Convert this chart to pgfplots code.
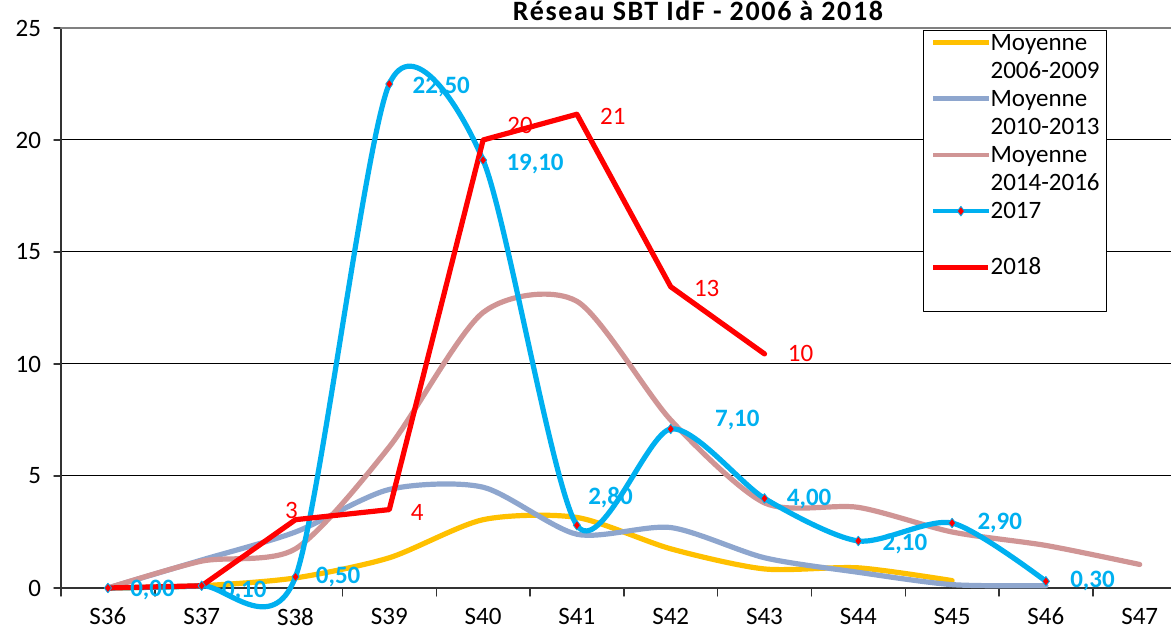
\documentclass[border=0pt]{standalone}
\usepackage{pgfplots}
\pgfplotsset{compat=1.18}
\usepackage{pgfplotstable}
\usepackage{fontspec}
\setmainfont{Carlito}
\definecolor{cyanS}{HTML}{00B0F0}
\definecolor{jaune}{HTML}{FFC000}
\definecolor{bleug}{HTML}{8EA6CE}
\definecolor{rose}{HTML}{D09595}
\definecolor{rouge}{HTML}{FF0000}
\newcommand\fs{\fontsize{12.5bp}{15bp}\selectfont}

\pgfplotstableread{
x y
0 0
1 0.1
2 0.45
3 1.35
4 3.05
5 3.15
6 1.75
7 0.85
8 0.9
9 0.33
}\moyA
\pgfplotstableread{
x y
0 0
1 1.25
2 2.5
3 4.4
4 4.5
5 2.4
6 2.7
7 1.35
8 0.7
9 0.15
10 0.1
}\moyB
\pgfplotstableread{
x y
0 0
1 1.2
2 1.75
3 6.3
4 12.3
5 12.8
6 7.5
7 3.8
8 3.6
9 2.5
10 1.9
11 1.05
}\moyC
\pgfplotstableread{
x y lab dx dy
0 0 0,00 11 -1
1 0.1 0,10 10 -2.5
2 0.5 0,50 10 0
3 22.5 22,50 11.5 -1.5
4 19.1 19,10 11.5 -2
5 2.8 2,80 5.5 14
6 7.1 7,10 22 4.5
7 4.0 4,00 11 -0.5
8 2.1 2,10 12 -1.5
9 2.9 2,90 12.5 0
10 0.3 0,30 12 0
}\sept
\pgfplotstableread{
x y lab dx dy
0 0 {} 0 0
1 0.1 {} 0 0
2 3.05 3 -2 4.5
3 3.5 4 14 -1.5
4 20.0 20 18.5 7.5
5 21.15 21 18 -1
6 13.45 13 18 -1
7 10.45 10 18 0
}\huit

\begin{document}
\begin{tikzpicture}
\begin{axis}[
  at={(0,0)}, anchor=south west,
  x=46.9bp, y=11.2bp,
  xmin=-0.5, xmax=11.33, ymin=0, ymax=25,
  clip=false,
  axis x line*=bottom, axis y line*=left,
  axis line style={black!80, line width=0.7bp, -},
  tick align=outside,
  xtick={0,...,11},
  xticklabels={S36,S37,S38,S39,S40,S41,S42,S43,S44,S45,S46,S47},
  major x tick style={draw=none},
  minor xtick={-0.5,0.5,...,10.5},
  minor x tick style={black!80, line width=0.7bp},
  minor tick length=4bp,
  ytick={0,5,...,25},
  major y tick style={black!80, line width=0.7bp},
  major tick length=3.5bp,
  ymajorgrids,
  major grid style={black, line width=0.5bp},
  tick label style={font=\fs},
  /pgf/number format/assume math mode=true,
  yticklabel style={xshift=-3bp},
  xticklabel style={yshift=-3bp},
  line cap=round, line join=round,
  legend style={at={(axis description cs:0.777,0.9964)}, anchor=north west,
     draw=black, line width=0.6bp, fill=white, inner xsep=3.5bp, inner ysep=0pt,
     font=\fs, cells={anchor=base west}, row sep=0pt, column sep=0bp,
     nodes={inner sep=0pt, text height=9.7bp, text depth=4.36bp}},
  legend image code/.code={\path (0bp,0bp); \draw[#1, line width=2.2bp, mark repeat=2, mark phase=2] plot coordinates {(0bp,3.8bp) (13.75bp,3.8bp) (27.5bp,3.8bp)};},
]
\draw[gray, line width=1.2bp] (axis cs:-0.5,25) -- (axis cs:11.33,25);
\addplot[jaune, line width=2.6bp, smooth, tension=0.45] table[x=x,y=y] {\moyA};
\addlegendentry{Moyenne}
\addlegendimage{empty legend}\addlegendentry{2006-2009}
\addplot[bleug, line width=2.6bp, smooth, tension=0.45] table[x=x,y=y] {\moyB};
\addlegendentry{Moyenne}
\addlegendimage{empty legend}\addlegendentry{2010-2013}
\addplot[rose, line width=2.6bp, smooth, tension=0.45] table[x=x,y=y] {\moyC};
\addlegendentry{Moyenne}
\addlegendimage{empty legend}\addlegendentry{2014-2016}
\addplot[cyanS, line width=2.6bp, smooth, tension=0.45,
   mark=diamond*, mark size=2.4bp, mark options={fill=rouge, draw=cyanS, line width=0.4bp},
   point meta=explicit symbolic,
   visualization depends on={\thisrow{dx}\as\dx},
   visualization depends on={\thisrow{dy}\as\dy},
   nodes near coords,
   nodes near coords style={anchor=west, inner sep=0pt, xshift=\dx*1bp, yshift=\dy*1bp,
      text=cyanS, font=\fs\bfseries}]
   table[x=x,y=y,meta=lab] {\sept};
\addlegendentry{2017}
\addlegendimage{empty legend}\addlegendentry{}
\addplot[rouge, line width=2.6bp,
   point meta=explicit symbolic,
   visualization depends on={\thisrow{dx}\as\dx},
   visualization depends on={\thisrow{dy}\as\dy},
   nodes near coords,
   nodes near coords style={anchor=center, inner sep=0pt, xshift=\dx*1bp, yshift=\dy*1bp,
      text=rouge, font=\fs}]
   table[x=x,y=y,meta=lab] {\huit};
\addlegendentry{2018}
\addlegendimage{empty legend}\addlegendentry{}
\node[anchor=base, font=\fontsize{14bp}{16bp}\selectfont\bfseries\addfontfeature{LetterSpace=6}] at (axis description cs:0.574,1.0125) {Réseau SBT IdF - 2006 à 2018};
\end{axis}
\pgfresetboundingbox
\path[use as bounding box] (-30.5bp,-21bp) rectangle (555bp,294bp);
\end{tikzpicture}
\end{document}
